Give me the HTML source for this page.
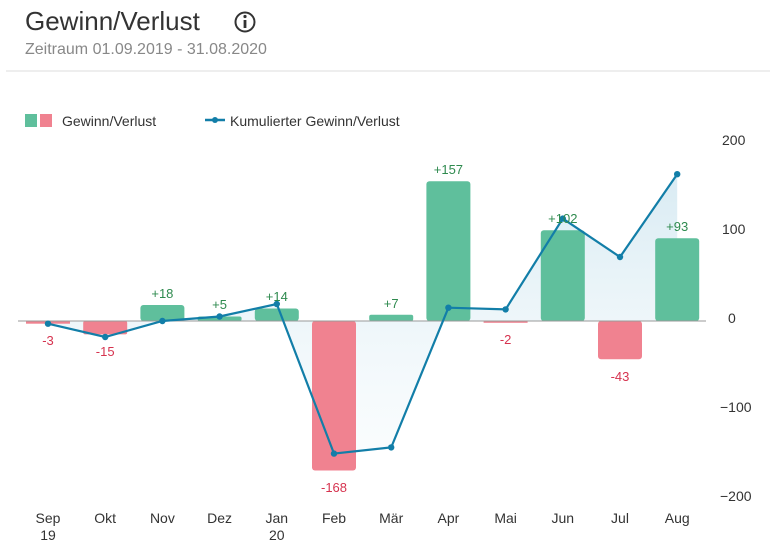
<!DOCTYPE html>
<html><head><meta charset="utf-8"><style>
body{margin:0;background:#fff;width:770px;height:554px;overflow:hidden;font-family:"Liberation Sans",sans-serif}
</style></head><body>
<svg width="770" height="554" xmlns="http://www.w3.org/2000/svg" font-family="Liberation Sans, sans-serif">
<defs>
<linearGradient id="g" x1="0" y1="0" x2="0" y2="1"><stop offset="0" stop-color="#cfe6f0" stop-opacity="0.8"/><stop offset="1" stop-color="#eef6fa" stop-opacity="0.3"/></linearGradient>
</defs>
<text x="25" y="30" font-size="26" fill="#333">Gewinn/Verlust</text>
<circle cx="245" cy="22" r="9.5" fill="none" stroke="#333" stroke-width="2"/>
<circle cx="245" cy="16.5" r="1.6" fill="#333"/>
<rect x="243.6" y="20" width="2.8" height="8" fill="#333"/>
<text x="25" y="54" font-size="16" fill="#888">Zeitraum 01.09.2019 - 31.08.2020</text>
<line x1="6" y1="71" x2="770" y2="71" stroke="#ddd" stroke-width="1"/>
<rect x="25" y="114" width="12" height="13" fill="#5fbf9c"/>
<rect x="40" y="114" width="12" height="13" fill="#f08290"/>
<text x="62" y="126" font-size="14" fill="#333">Gewinn/Verlust</text>
<line x1="205" y1="120" x2="225" y2="120" stroke="#127ea8" stroke-width="2.5"/>
<circle cx="215" cy="120" r="3" fill="#127ea8"/>
<text x="230" y="126" font-size="14" fill="#333">Kumulierter Gewinn/Verlust</text>
<g font-size="14" fill="#333" text-anchor="start">
<text x="722" y="145">200</text><text x="722" y="234">100</text><text x="728" y="323">0</text>
<text x="720" y="412">−100</text><text x="720" y="501">−200</text>
</g>
<polygon fill="url(#g)" points="48,321 48,323.7 105.2,337 162.4,321 219.6,316.5 276.8,304 334,453.6 391.2,447.4 448.4,307.7 505.6,309.4 562.8,218.6 620,257 677.2,174.2 677.2,321"/>
<g fill="#5fbf9c">
<rect x="140.4" y="305" width="44" height="16" rx="3"/>
<rect x="197.6" y="316.5" width="44" height="4.5" rx="2"/>
<rect x="254.8" y="308.5" width="44" height="12.5" rx="3"/>
<rect x="369.2" y="314.8" width="44" height="6.2" rx="2"/>
<rect x="426.4" y="181.3" width="44" height="139.7" rx="3"/>
<rect x="540.8" y="230.2" width="44" height="90.8" rx="3"/>
<rect x="655.2" y="238.2" width="44" height="82.8" rx="3"/>
</g>
<g fill="#f08290">
<rect x="26" y="321" width="44" height="2.7"/>
<rect x="83.2" y="321" width="44" height="13.4" rx="2"/>
<rect x="312" y="321" width="44" height="149.5" rx="3"/>
<rect x="483.6" y="321" width="44" height="1.8"/>
<rect x="598" y="321" width="44" height="38.3" rx="3"/>
</g>
<line x1="18" y1="321" x2="706" y2="321" stroke="#999" stroke-width="1"/>
<polyline fill="none" stroke="#127ea8" stroke-width="2.2" points="48,323.7 105.2,337 162.4,321 219.6,316.5 276.8,304 334,453.6 391.2,447.4 448.4,307.7 505.6,309.4 562.8,218.6 620,257 677.2,174.2"/>
<g fill="#127ea8">
<circle cx="48" cy="323.7" r="3.2"/><circle cx="105.2" cy="337" r="3.2"/><circle cx="162.4" cy="321" r="3.2"/><circle cx="219.6" cy="316.5" r="3.2"/><circle cx="276.8" cy="304" r="3.2"/><circle cx="334" cy="453.6" r="3.2"/><circle cx="391.2" cy="447.4" r="3.2"/><circle cx="448.4" cy="307.7" r="3.2"/><circle cx="505.6" cy="309.4" r="3.2"/><circle cx="562.8" cy="218.6" r="3.2"/><circle cx="620" cy="257" r="3.2"/><circle cx="677.2" cy="174.2" r="3.2"/>
</g>
<g font-size="13" text-anchor="middle" fill="#2e8a4e">
<text x="162.4" y="298">+18</text><text x="219.6" y="309">+5</text><text x="276.8" y="301">+14</text><text x="391.2" y="308">+7</text><text x="448.4" y="174">+157</text><text x="562.8" y="223">+102</text><text x="677.2" y="231">+93</text>
</g>
<g font-size="13" text-anchor="middle" fill="#d6334f">
<text x="48" y="345">-3</text><text x="105.2" y="356">-15</text><text x="334" y="492">-168</text><text x="505.6" y="344">-2</text><text x="620" y="381">-43</text>
</g>
<g font-size="14" text-anchor="middle" fill="#333">
<text x="48" y="523">Sep</text><text x="48" y="540">19</text>
<text x="105.2" y="523">Okt</text><text x="162.4" y="523">Nov</text><text x="219.6" y="523">Dez</text>
<text x="276.8" y="523">Jan</text><text x="276.8" y="540">20</text>
<text x="334" y="523">Feb</text><text x="391.2" y="523">Mär</text><text x="448.4" y="523">Apr</text><text x="505.6" y="523">Mai</text><text x="562.8" y="523">Jun</text><text x="620" y="523">Jul</text><text x="677.2" y="523">Aug</text>
</g>
</svg>
</body></html>
